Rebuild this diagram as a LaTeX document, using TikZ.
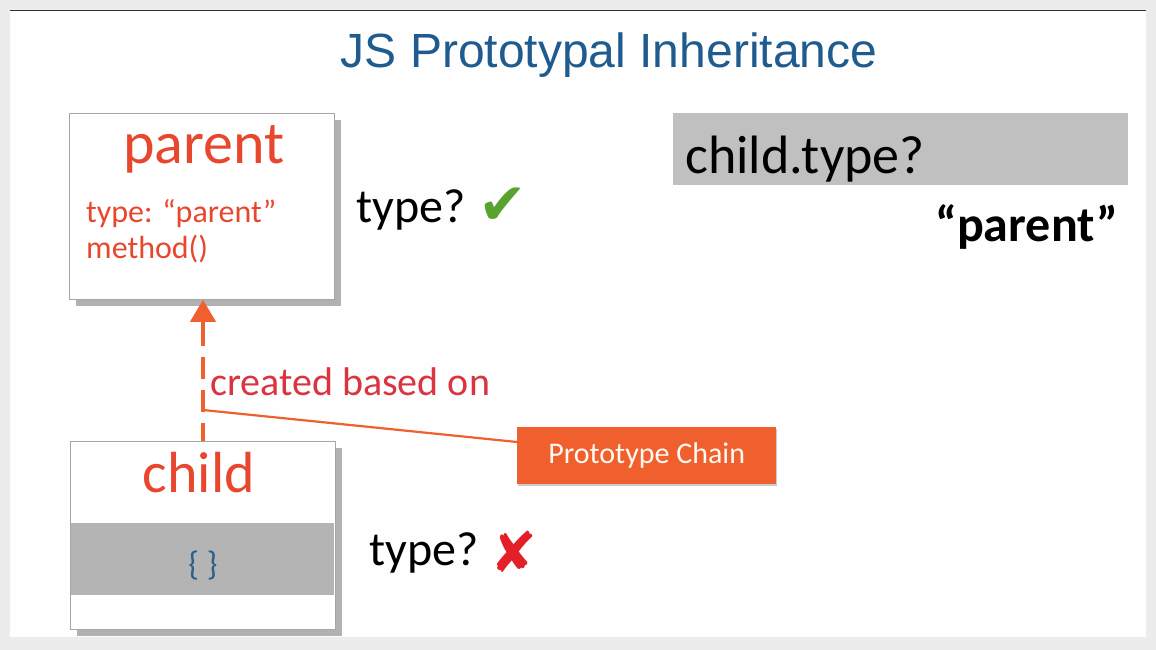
\documentclass[tikz,border=0pt]{standalone}
\usepackage{fontspec}
\setmainfont{Carlito}
\newfontfamily\titlefont{Liberation Sans}
\newfontfamily\symfont{DejaVu Sans}
\usetikzlibrary{shadows,arrows.meta,calc}
\definecolor{titleblue}{HTML}{1F5B8E}
\definecolor{boxred}{HTML}{E8472E}
\definecolor{labred}{HTML}{D93440}
\definecolor{chainor}{HTML}{F0602E}
\definecolor{bandgray}{HTML}{B4B4B4}
\definecolor{qgray}{HTML}{C0C0C0}
\definecolor{bracecol}{HTML}{2C5F8A}
\definecolor{okgreen}{HTML}{5AA22E}
\definecolor{xred}{HTML}{E3202A}
\tikzset{
  objbox/.style={draw=gray!70, line width=0.8pt, fill=white, minimum width=265pt, anchor=north west,
    drop shadow={shadow xshift=7pt, shadow yshift=-7pt, fill=black, opacity=0.3}},
  fsz/.style={font=\fontsize{#1}{#1}\selectfont},
}
\begin{document}
\begin{tikzpicture}[x=1pt,y=-1pt]
\useasboundingbox (0,0) rectangle (1156,650);
\fill[gray!15] (0,0) rectangle (1156,650);
\fill[white!99!gray] (10,10) rectangle (1146,637);
\draw[black!80, line width=1.2pt] (10,10.5) -- (1146,10.5);
% title
\node[font=\titlefont\fontsize{48}{48}\selectfont, text=titleblue, anchor=base] (title) at (609,68) {JS Prototypal Inheritance};
% parent box
\node[objbox, minimum height=186pt] (parent) at (69,113) {};
\node[fsz=60, text=boxred, anchor=base] (pname) at (204,163) {parent};
\node[fsz=32, text=boxred, anchor=base west, inner sep=0pt] (ptype) at (86,222) {type: “parent”};
\node[fsz=32, text=boxred, anchor=base west, inner sep=0pt] (pmeth) at (86,258) {method()};
% child box
\node[objbox, minimum height=188pt] (child) at (70,441) {};
\fill[bandgray] (71,523) rectangle (334,595);
\node[fsz=58, text=boxred, anchor=base] (cname) at (199,492) {child};
\node[fsz=34, text=bracecol, anchor=base] (braces) at (203,575) {\{ \}};
% type? labels
\node[fsz=48, anchor=base west, inner sep=0pt] (t1) at (356,222) {type?};
\node[font=\symfont\fontsize{58}{58}\selectfont, text=okgreen, anchor=base west, inner sep=0pt] (ok) at (478,224) {✔};
\node[fsz=48, anchor=base west, inner sep=0pt] (t2) at (369,565) {type?};
\node[font=\symfont\fontsize{56}{56}\selectfont, text=xred, anchor=base west, inner sep=0pt] (no) at (490,572) {✘};
% arrow
\coordinate (cb) at (203,410);
\draw[chainor, line width=4pt, dash pattern=on 22pt off 11pt, dash phase=4pt] (child.north -| cb) -- (203,320);
\draw[chainor, -{Triangle[width=25pt,length=22pt]}, line width=4pt] (203,324) -- (parent.south -| cb);
\node[fsz=40, text=labred, anchor=base west, inner sep=0pt] (created) at (210,395) {created based on};
% prototype chain
\node[fill=chainor, minimum width=259pt, minimum height=57pt, anchor=north west, fsz=30, text=white!95!orange,
  drop shadow={shadow xshift=1pt, shadow yshift=-2pt, fill=black, opacity=0.2}] (pc) at (517,427) {Prototype Chain};
\draw[chainor, line width=2.2pt] (cb) -- ($(pc.north west)+(0,15)$);
% child.type?
\node[fill=qgray, minimum width=455pt, minimum height=72pt, anchor=north west] (q) at (673,113) {};
\node[fsz=54, anchor=base west, inner sep=0pt] (qt) at (685,173) {child.type?};
\node[font=\fontsize{50}{50}\selectfont\bfseries, anchor=base east, inner sep=0pt] (ans) at (1118,241) {“parent”};
\end{tikzpicture}
\end{document}
